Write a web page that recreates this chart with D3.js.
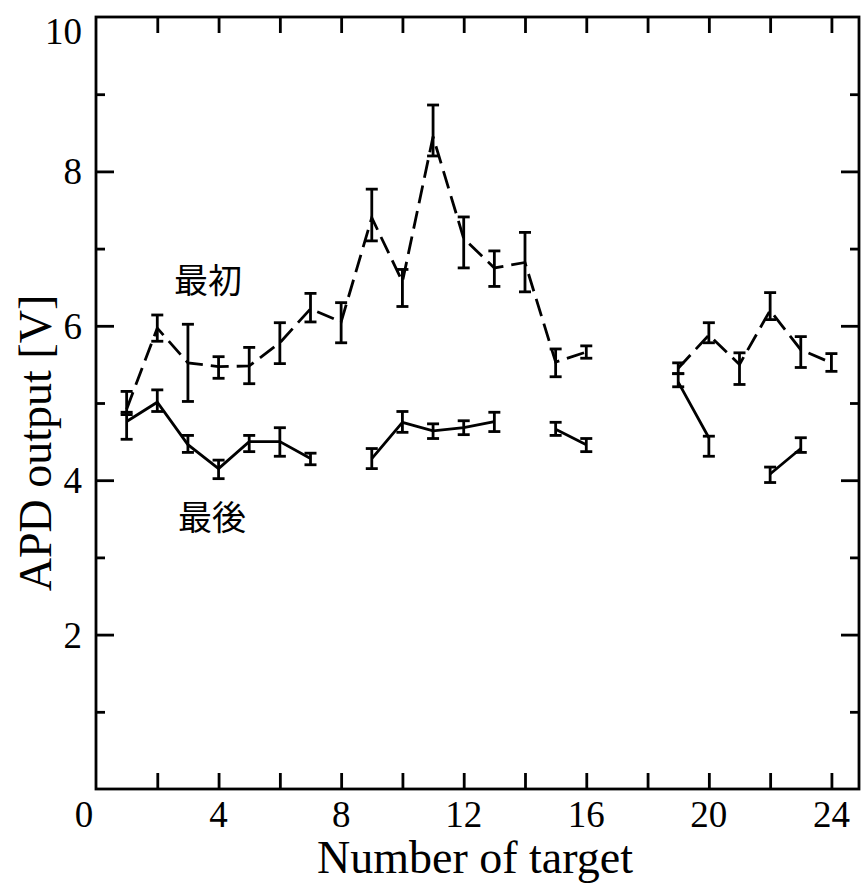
<!DOCTYPE html>
<html>
<head>
<meta charset="utf-8">
<script src="https://cdn.jsdelivr.net/npm/d3@7"></script>
<style>
  html, body { margin: 0; padding: 0; background: #fff; }
  svg { display: block; }
</style>
</head>
<body>
<svg id="chart" width="862" height="885"></svg>
<script>
// ---- data ----
const targets = [1,2,3,4,5,6,7,8,9,10,11,12,13,14,15,16,17,18,19,20,21,22,23,24];

// 最初 (first, dashed)
const firstValues = [4.92,5.97,5.52,5.47,5.48,5.78,6.22,6.05,7.40,6.57,8.45,7.13,6.75,6.82,5.53,5.66,null,null,5.45,5.88,5.50,6.20,5.69,5.52];
const firstLow    = [4.85,5.80,5.02,5.32,5.25,5.51,6.05,5.78,7.10,6.25,8.20,6.75,6.51,6.44,5.34,5.58,null,null,5.38,5.78,5.24,6.08,5.46,5.41];
const firstHigh   = [5.15,6.14,6.02,5.60,5.72,6.04,6.42,6.30,7.77,6.73,8.86,7.41,6.97,7.21,5.70,5.74,null,null,5.52,6.04,5.65,6.43,5.86,5.64];

// 最後 (last, solid)
const lastValues = [4.76,5.01,4.46,4.15,4.50,4.50,4.28,null,4.28,4.75,4.64,4.68,4.76,null,4.66,4.46,null,null,5.27,4.55,null,4.08,4.41,null];
const lastLow    = [4.53,4.89,4.36,4.02,4.37,4.31,4.20,null,4.15,4.62,4.54,4.59,4.63,null,4.58,4.37,null,null,5.21,4.31,null,3.97,4.36,null];
const lastHigh   = [4.88,5.17,4.58,4.26,4.58,4.68,4.35,null,4.41,4.89,4.73,4.77,4.88,null,4.75,4.54,null,null,5.38,4.57,null,4.17,4.55,null];

const xTickValues = [0,4,8,12,16,20,24];
const yTickValues = [2,4,6,8,10];
const xTitle = "Number of target";
const yTitle = "APD output [V]";
const firstLabel = "最初";
const lastLabel = "最後";

// ---- layout ----
const svg = d3.select("#chart");
const pL = 96, pR = 859, pT = 17, pB = 789;
const x = d3.scaleLinear().domain([0, 24.9]).range([pL, pR]);
const y = d3.scaleLinear().domain([0, 10]).range([pB, pT]);
const serif = "'Liberation Serif', 'Times New Roman', serif";
const cjk = "'Noto Sans CJK JP', 'Noto Sans CJK SC', sans-serif";
const sw = 2.8;

// frame
svg.append("rect")
  .attr("x", pL).attr("y", pT)
  .attr("width", pR - pL).attr("height", pB - pT)
  .attr("fill", "none").attr("stroke", "#000").attr("stroke-width", sw);

// axes with inward ticks
const evenTicks = d3.range(2, 25, 2);
const unitTicks = d3.range(1, 10, 1);

const gB = svg.append("g").attr("transform", `translate(0,${pB})`)
  .call(d3.axisBottom(x).tickValues(evenTicks).tickSize(-16).tickFormat(""));
const gT = svg.append("g").attr("transform", `translate(0,${pT})`)
  .call(d3.axisTop(x).tickValues(evenTicks).tickSize(-16).tickFormat(""));
const gL = svg.append("g").attr("transform", `translate(${pL},0)`)
  .call(d3.axisLeft(y).tickValues(unitTicks).tickSize(-18).tickFormat(""));
const gR = svg.append("g").attr("transform", `translate(${pR},0)`)
  .call(d3.axisRight(y).tickValues(unitTicks).tickSize(-18).tickFormat(""));
[gB, gT, gL, gR].forEach(g => {
  g.select(".domain").remove();
  g.selectAll(".tick line").attr("stroke", "#000").attr("stroke-width", sw);
});
// minor (odd) ticks shorter on the vertical axes
gL.selectAll(".tick line").attr("x2", d => d % 2 === 0 ? 18 : 9);
gR.selectAll(".tick line").attr("x2", d => d % 2 === 0 ? -18 : -9);

// tick labels
svg.append("g").selectAll("text").data(xTickValues).join("text")
  .attr("x", d => x(d) + (d === 0 ? -12 : 0))
  .attr("y", 827)
  .attr("text-anchor", "middle")
  .attr("font-family", serif).attr("font-size", 37)
  .text(d => d);
svg.append("g").selectAll("text").data(yTickValues).join("text")
  .attr("x", 82)
  .attr("y", d => y(d) + (d === 10 ? 14 : 0))
  .attr("dy", "0.35em")
  .attr("text-anchor", "end")
  .attr("font-family", serif).attr("font-size", 37)
  .text(d => d);

// axis titles
svg.append("text")
  .attr("x", 475).attr("y", 873)
  .attr("text-anchor", "middle")
  .attr("font-family", serif).attr("font-size", 46)
  .text(xTitle);
svg.append("text")
  .attr("transform", "translate(51,443) rotate(-90)")
  .attr("text-anchor", "middle")
  .attr("font-family", serif).attr("font-size", 46)
  .text(yTitle);

// series
function drawSeries(values, low, high, dash) {
  const pts = targets.map((t, i) => ({ t, v: values[i], lo: low[i], hi: high[i] }));
  const line = d3.line()
    .defined(d => d.v != null)
    .x(d => x(d.t)).y(d => y(d.v));
  svg.append("path")
    .datum(pts)
    .attr("d", line)
    .attr("fill", "none")
    .attr("stroke", "#000")
    .attr("stroke-width", sw)
    .attr("stroke-dasharray", dash);
  const valid = pts.filter(d => d.v != null);
  const g = svg.append("g").attr("stroke", "#000").attr("stroke-width", sw);
  g.selectAll(".v").data(valid).join("line")
    .attr("x1", d => x(d.t)).attr("x2", d => x(d.t))
    .attr("y1", d => y(d.lo)).attr("y2", d => y(d.hi));
  g.selectAll(".lo").data(valid).join("line")
    .attr("x1", d => x(d.t) - 6).attr("x2", d => x(d.t) + 6)
    .attr("y1", d => y(d.lo)).attr("y2", d => y(d.lo));
  g.selectAll(".hi").data(valid).join("line")
    .attr("x1", d => x(d.t) - 6).attr("x2", d => x(d.t) + 6)
    .attr("y1", d => y(d.hi)).attr("y2", d => y(d.hi));
}
drawSeries(firstValues, firstLow, firstHigh, "18,8");
drawSeries(lastValues, lastLow, lastHigh, null);

// series labels
svg.append("text")
  .attr("x", 208).attr("y", 281).attr("dy", "0.35em")
  .attr("text-anchor", "middle")
  .attr("font-family", cjk).attr("font-size", 34)
  .text(firstLabel);
svg.append("text")
  .attr("x", 212).attr("y", 518).attr("dy", "0.35em")
  .attr("text-anchor", "middle")
  .attr("font-family", cjk).attr("font-size", 34)
  .text(lastLabel);
</script>
</body>
</html>
